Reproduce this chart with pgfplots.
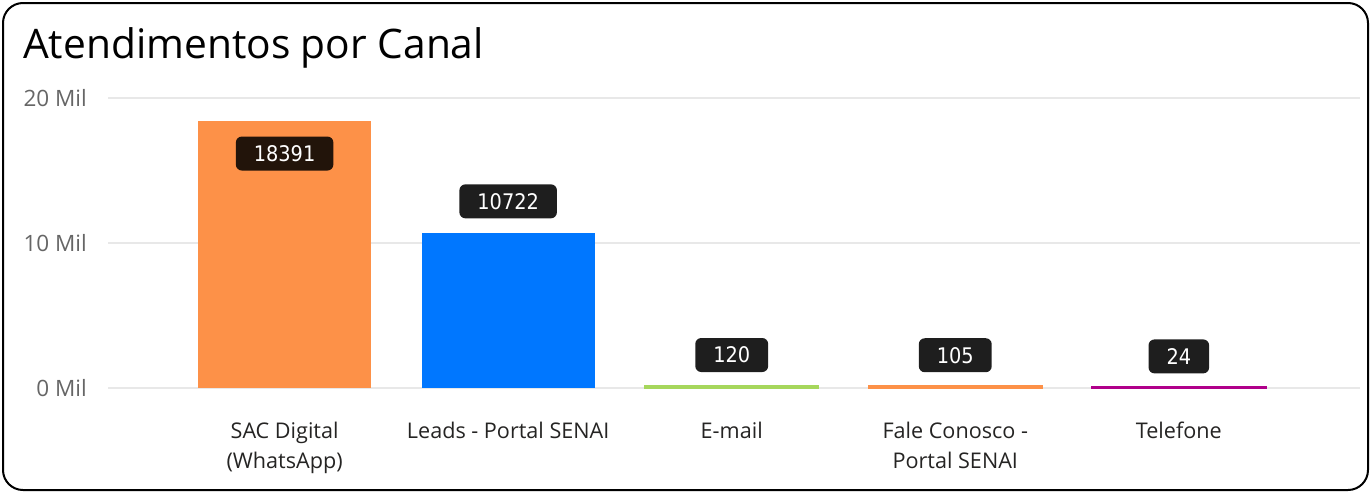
\documentclass[border=0pt]{standalone}
\usepackage{pgfplots}
\pgfplotsset{compat=1.18}
\usepackage{fontspec}
\setmainfont{Open Sans}
\newfontfamily\labelfont{DejaVu Sans Condensed}
\definecolor{cOrange}{HTML}{FD9148}
\definecolor{cBlue}{HTML}{0077FF}
\definecolor{cGreen}{HTML}{A6D75C}
\definecolor{cMagenta}{HTML}{B0008A}
\definecolor{gridc}{HTML}{E8E8E8}
\definecolor{tickc}{HTML}{666666}
\definecolor{catc}{HTML}{252423}
\definecolor{lblA}{HTML}{22140A}
\definecolor{lblB}{HTML}{1E1E1E}
\begin{document}
\begin{tikzpicture}[x=1pt,y=1pt]
\useasboundingbox (0,0) rectangle (1371,-493);
\draw[line width=2pt, rounded corners=20pt] (3,-3) rectangle (1368,-490);
\node[anchor=base west, inner sep=0, font=\fontsize{40.7}{48}\selectfont] at (23,-58) {Atendimentos por Canal};
\begin{axis}[
  at={(108pt,-388pt)}, anchor=south west,
  scale only axis, width=1252pt, height=290pt,
  xmin=-0.79, xmax=4.81, ymin=0, ymax=20000,
  scaled y ticks=false,
  axis line style={draw=none},
  major tick length=0pt,
  ytick={0,10000,20000},
  yticklabels={0 Mil,10 Mil,20 Mil},
  yticklabel style={font=\fontsize{22.5}{24}\selectfont, text=tickc, anchor=east, inner sep=0pt, xshift=-21pt},
  xtick={0,1,2,3,4},
  xticklabels={{SAC Digital\\(WhatsApp)},{Leads - Portal SENAI},{E-mail},{Fale Conosco -\\Portal SENAI},{Telefone}},
  xticklabel style={font=\fontsize{21.6}{30}\selectfont, text=catc, align=center, anchor=north, inner sep=0pt, yshift=-34pt},
  ymajorgrids, grid style={line width=2pt, gridc},
  ybar, bar width=0.774, bar shift=0pt,
  point meta=explicit symbolic,
  nodes near coords,
  every node near coord/.append style={text=white, rounded corners=6pt,
    font=\labelfont\fontsize{21.5}{22}\selectfont, inner xsep=18pt, inner ysep=0pt,
    text height=15.7pt, text depth=0pt, minimum height=34pt},
]
\addplot[fill=cOrange, draw=none, every node near coord/.append style={fill=lblA, anchor=north, yshift=-15pt}] coordinates {(0,18391) [18391]};
\addplot[fill=cBlue, draw=none, every node near coord/.append style={fill=lblB, anchor=south, yshift=14pt}] coordinates {(1,10722) [10722]};
\addplot[fill=cGreen, draw=cGreen, line width=2.5pt, every node near coord/.append style={fill=lblB, anchor=south, yshift=13pt}] coordinates {(2,120) [120]};
\addplot[fill=cOrange, draw=cOrange, line width=2.5pt, every node near coord/.append style={fill=lblB, anchor=south, yshift=13pt}] coordinates {(3,105) [105]};
\addplot[fill=cMagenta, draw=cMagenta, line width=2.5pt, every node near coord/.append style={fill=lblB, anchor=south, yshift=13pt}] coordinates {(4,24) [24]};
\end{axis}
\end{tikzpicture}
\end{document}
